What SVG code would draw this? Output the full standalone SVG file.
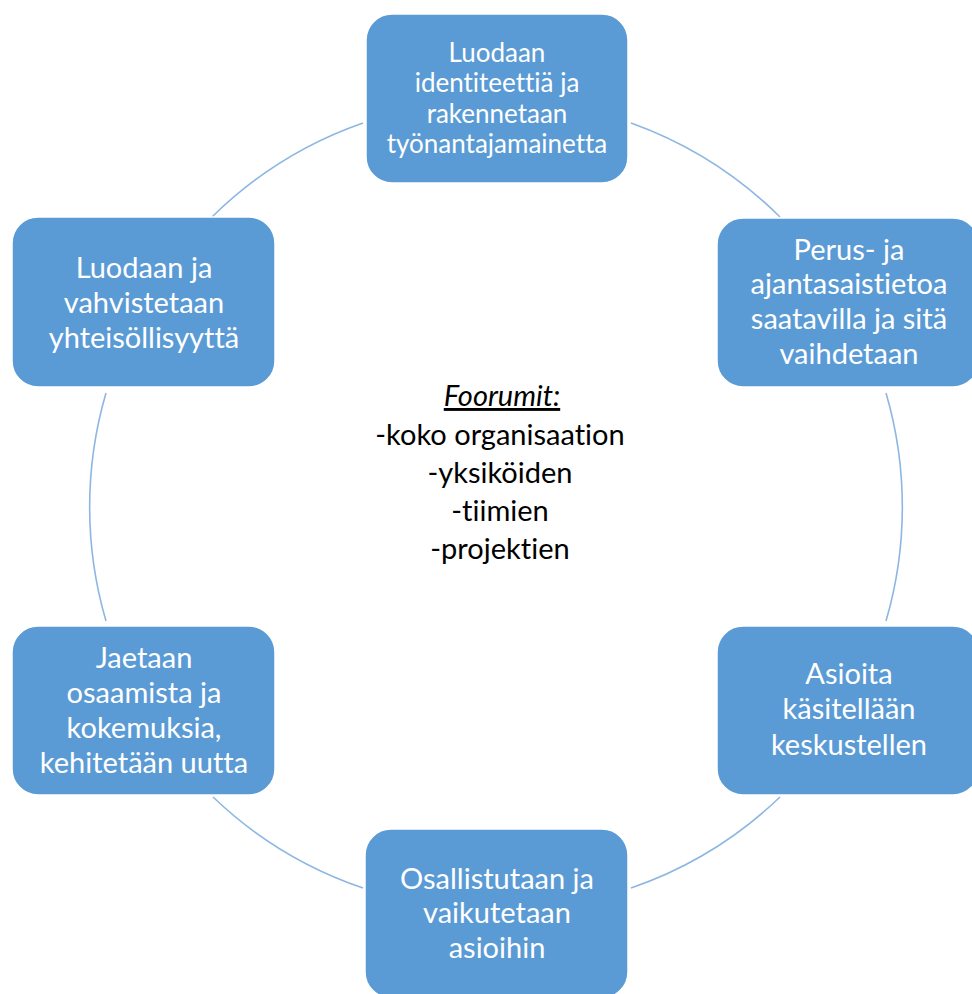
<svg xmlns="http://www.w3.org/2000/svg" width="972" height="994" viewBox="0 0 972 994">
<style>
text{font-variant-ligatures:none;font-feature-settings:"liga" 0}
.box{fill:#5B9BD5;stroke:#FFFFFF;stroke-width:1.5}
.lbl{font-family:Lato,"Liberation Sans",sans-serif;fill:#FFFFFF;text-anchor:middle;font-size:29px}
.lbl2{font-family:Lato,"Liberation Sans",sans-serif;fill:#FFFFFF;text-anchor:middle;font-size:26px}
.arc{fill:none;stroke:#8DB7E2;stroke-width:1.6}
.ctr{font-family:Lato,"Liberation Sans",sans-serif;fill:#000000;text-anchor:middle;font-size:29px}
</style>
<rect width="972" height="994" fill="#FFFFFF"/>
<g id="connectors">
<path class="arc" d="M212,217 A405.5,405.5 0 0 1 363,123"/>
<path class="arc" d="M631,123 A405.5,405.5 0 0 1 780,217"/>
<path class="arc" d="M886,393 A405.5,405.5 0 0 1 886,621"/>
<path class="arc" d="M780,797 A405.5,405.5 0 0 1 631,888"/>
<path class="arc" d="M363,888 A405.5,405.5 0 0 1 213,797"/>
<path class="arc" d="M106,621 A405.5,405.5 0 0 1 106,393"/>
</g>
<g id="node-top">
<rect class="box" x="366" y="14" width="262" height="169" rx="26"/>
<text class="lbl2" x="497" y="62">Luodaan</text>
<text class="lbl2" x="497" y="92">identiteettiä ja</text>
<text class="lbl2" x="497" y="123">rakennetaan</text>
<text class="lbl2" x="497" y="153">työnantajamainetta</text>
</g>
<g id="node-right-upper">
<rect class="box" x="717" y="218" width="262" height="169" rx="26"/>
<text class="lbl" x="849" y="260">Perus- ja</text>
<text class="lbl" x="849" y="294">ajantasaistietoa</text>
<text class="lbl" x="849" y="329">saatavilla ja sitä</text>
<text class="lbl" x="849" y="364">vaihdetaan</text>
</g>
<g id="node-right-lower">
<rect class="box" x="717" y="626" width="262" height="169" rx="26"/>
<text class="lbl" x="849" y="684">Asioita</text>
<text class="lbl" x="849" y="719">käsitellään</text>
<text class="lbl" x="849" y="755">keskustellen</text>
</g>
<g id="node-bottom">
<rect class="box" x="365" y="829" width="263" height="169" rx="26"/>
<text class="lbl" x="497" y="889">Osallistutaan ja</text>
<text class="lbl" x="497" y="923">vaikutetaan</text>
<text class="lbl" x="497" y="958">asioihin</text>
</g>
<g id="node-left-lower">
<rect class="box" x="12" y="626" width="263" height="169" rx="26"/>
<text class="lbl" x="144" y="668">Jaetaan</text>
<text class="lbl" x="144" y="703">osaamista ja</text>
<text class="lbl" x="144" y="738">kokemuksia,</text>
<text class="lbl" x="144" y="773">kehitetään uutta</text>
</g>
<g id="node-left-upper">
<rect class="box" x="12" y="217" width="263" height="170" rx="26"/>
<text class="lbl" x="144" y="278">Luodaan ja</text>
<text class="lbl" x="144" y="313">vahvistetaan</text>
<text class="lbl" x="144" y="348">yhteisöllisyyttä</text>
</g>
<g id="center-text">
<text class="ctr" x="502" y="406" font-style="italic" text-decoration="underline">Foorumit:</text>
<text class="ctr" x="500" y="445">-koko organisaation</text>
<text class="ctr" x="500" y="483">-yksiköiden</text>
<text class="ctr" x="500" y="521">-tiimien</text>
<text class="ctr" x="500" y="559">-projektien</text>
</g>
</svg>
